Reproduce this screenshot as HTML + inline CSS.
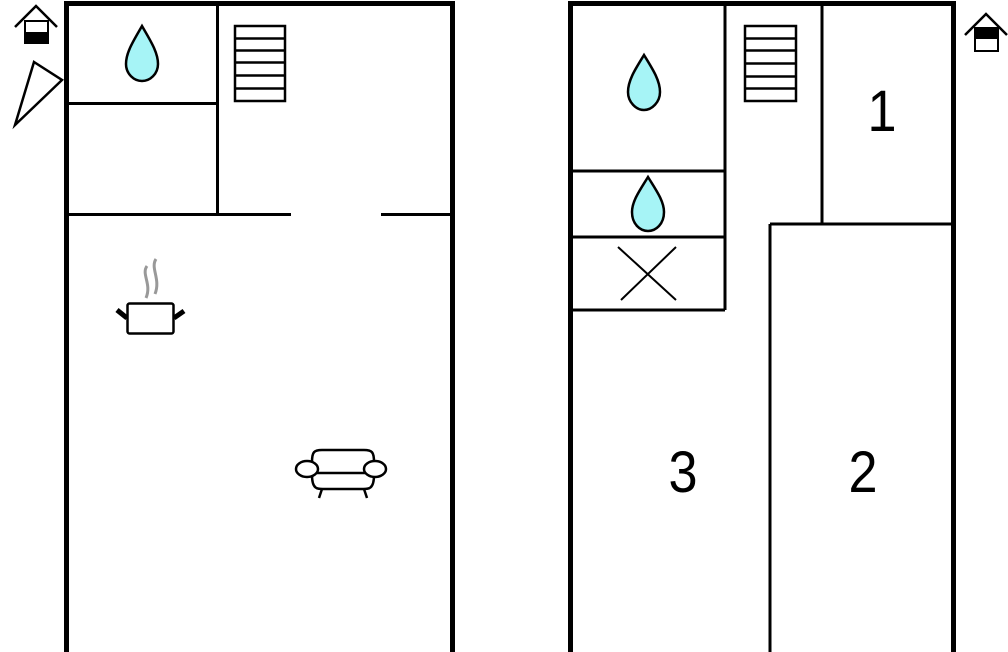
<!DOCTYPE html>
<html><head><meta charset="utf-8"><style>html,body{margin:0;padding:0;background:#fff;}svg{display:block}</style></head>
<body>
<svg width="1008" height="652" viewBox="0 0 1008 652" xmlns="http://www.w3.org/2000/svg">
<g fill="none" stroke="#000">
<path d="M66.5 660 V3.5 H452.5 V660" stroke-width="5"/>
<path d="M217.5 3 V214 M66 103.5 H217 M66 214.5 H291 M381 214.5 H452" stroke-width="3"/>
<rect x="235" y="26" width="50" height="75" stroke-width="2.5"/>
<path d="M235 38.5H285 M235 50.5H285 M235 62.5H285 M235 75.5H285 M235 88.5H285" stroke-width="2.5"/>
<path d="M570.5 660 V3.5 H953.5 V660" stroke-width="5"/>
<path d="M725 3 V310 M570 171 H725 M570 237 H725 M570 310 H725 M822 3 V224 M770 224 H953 M770 224 V660" stroke-width="3"/>
<rect x="745" y="26" width="51" height="75" stroke-width="2.5"/>
<path d="M745 38.5H796 M745 50.5H796 M745 63.5H796 M745 76.5H796 M745 88.5H796" stroke-width="2.5"/>
<path d="M618 247 L676 300 M621 300 L676 247" stroke-width="2"/>
<path d="M34 62 L62 80 L15 125 Z" stroke-width="2.5"/>
<path d="M15 27 L36 6 L57 27" stroke-width="2.5"/>
<rect x="25" y="21" width="23" height="22" stroke-width="2"/>
<path d="M1007 35 L986 14 L965 35" stroke-width="2.5"/>
<rect x="975" y="28" width="23" height="23" stroke-width="2"/>
<rect x="127.5" y="303.5" width="46" height="30" rx="2" stroke-width="2.5"/>
<path d="M117 310 L127 318 M184 311 L174 318" stroke-width="5"/>
<path d="M147 266 C141 274 152 284 146 298 M156 259 C150 268 161 279 155 294" stroke="#999" stroke-width="3"/>
<g stroke-width="2.5">
<path d="M312 462 C312 452 314 450 322 450 H364 C372 450 374 452 374 462"/>
<path d="M312 475 C312 490 318 489 324 489 H362 C368 489 374 490 374 475"/>
<path d="M317 473 H370"/>
<ellipse cx="307" cy="469" rx="11" ry="8" fill="#fff"/>
<ellipse cx="375" cy="469" rx="11" ry="8" fill="#fff"/>
<path d="M322 489 L319 498 M364 489 L367 498"/>
</g>
</g>
<rect x="25" y="32" width="23" height="12" fill="#000"/>
<rect x="975" y="28" width="23" height="11" fill="#000"/>
<g fill="#a6f4f6" stroke="#000" stroke-width="2.5">
<path d="M142 26 C134 40 126 52 126 64 C126 74 134 81 142 81 C150 81 158 74 158 64 C158 52 150 40 142 26 Z"/>
<path d="M644 55 C636 68 628 80 628 92 C628 102 636 110 644 110 C652 110 660 102 660 92 C660 80 652 68 644 55 Z"/>
<path d="M648 177 C640 190 632 201 632 212 C632 224 640 231 648 231 C656 231 664 224 664 212 C664 201 656 190 648 177 Z"/>
</g>
<g font-family="Liberation Sans, sans-serif" font-size="58" fill="#000" text-anchor="middle">
<text x="882" y="131" transform="translate(882 0) scale(0.9 1) translate(-882 0)">1</text>
<text x="683" y="492" transform="translate(683 0) scale(0.9 1) translate(-683 0)">3</text>
<text x="863" y="492" transform="translate(863 0) scale(0.9 1) translate(-863 0)">2</text>
</g>
</svg>
</body></html>
